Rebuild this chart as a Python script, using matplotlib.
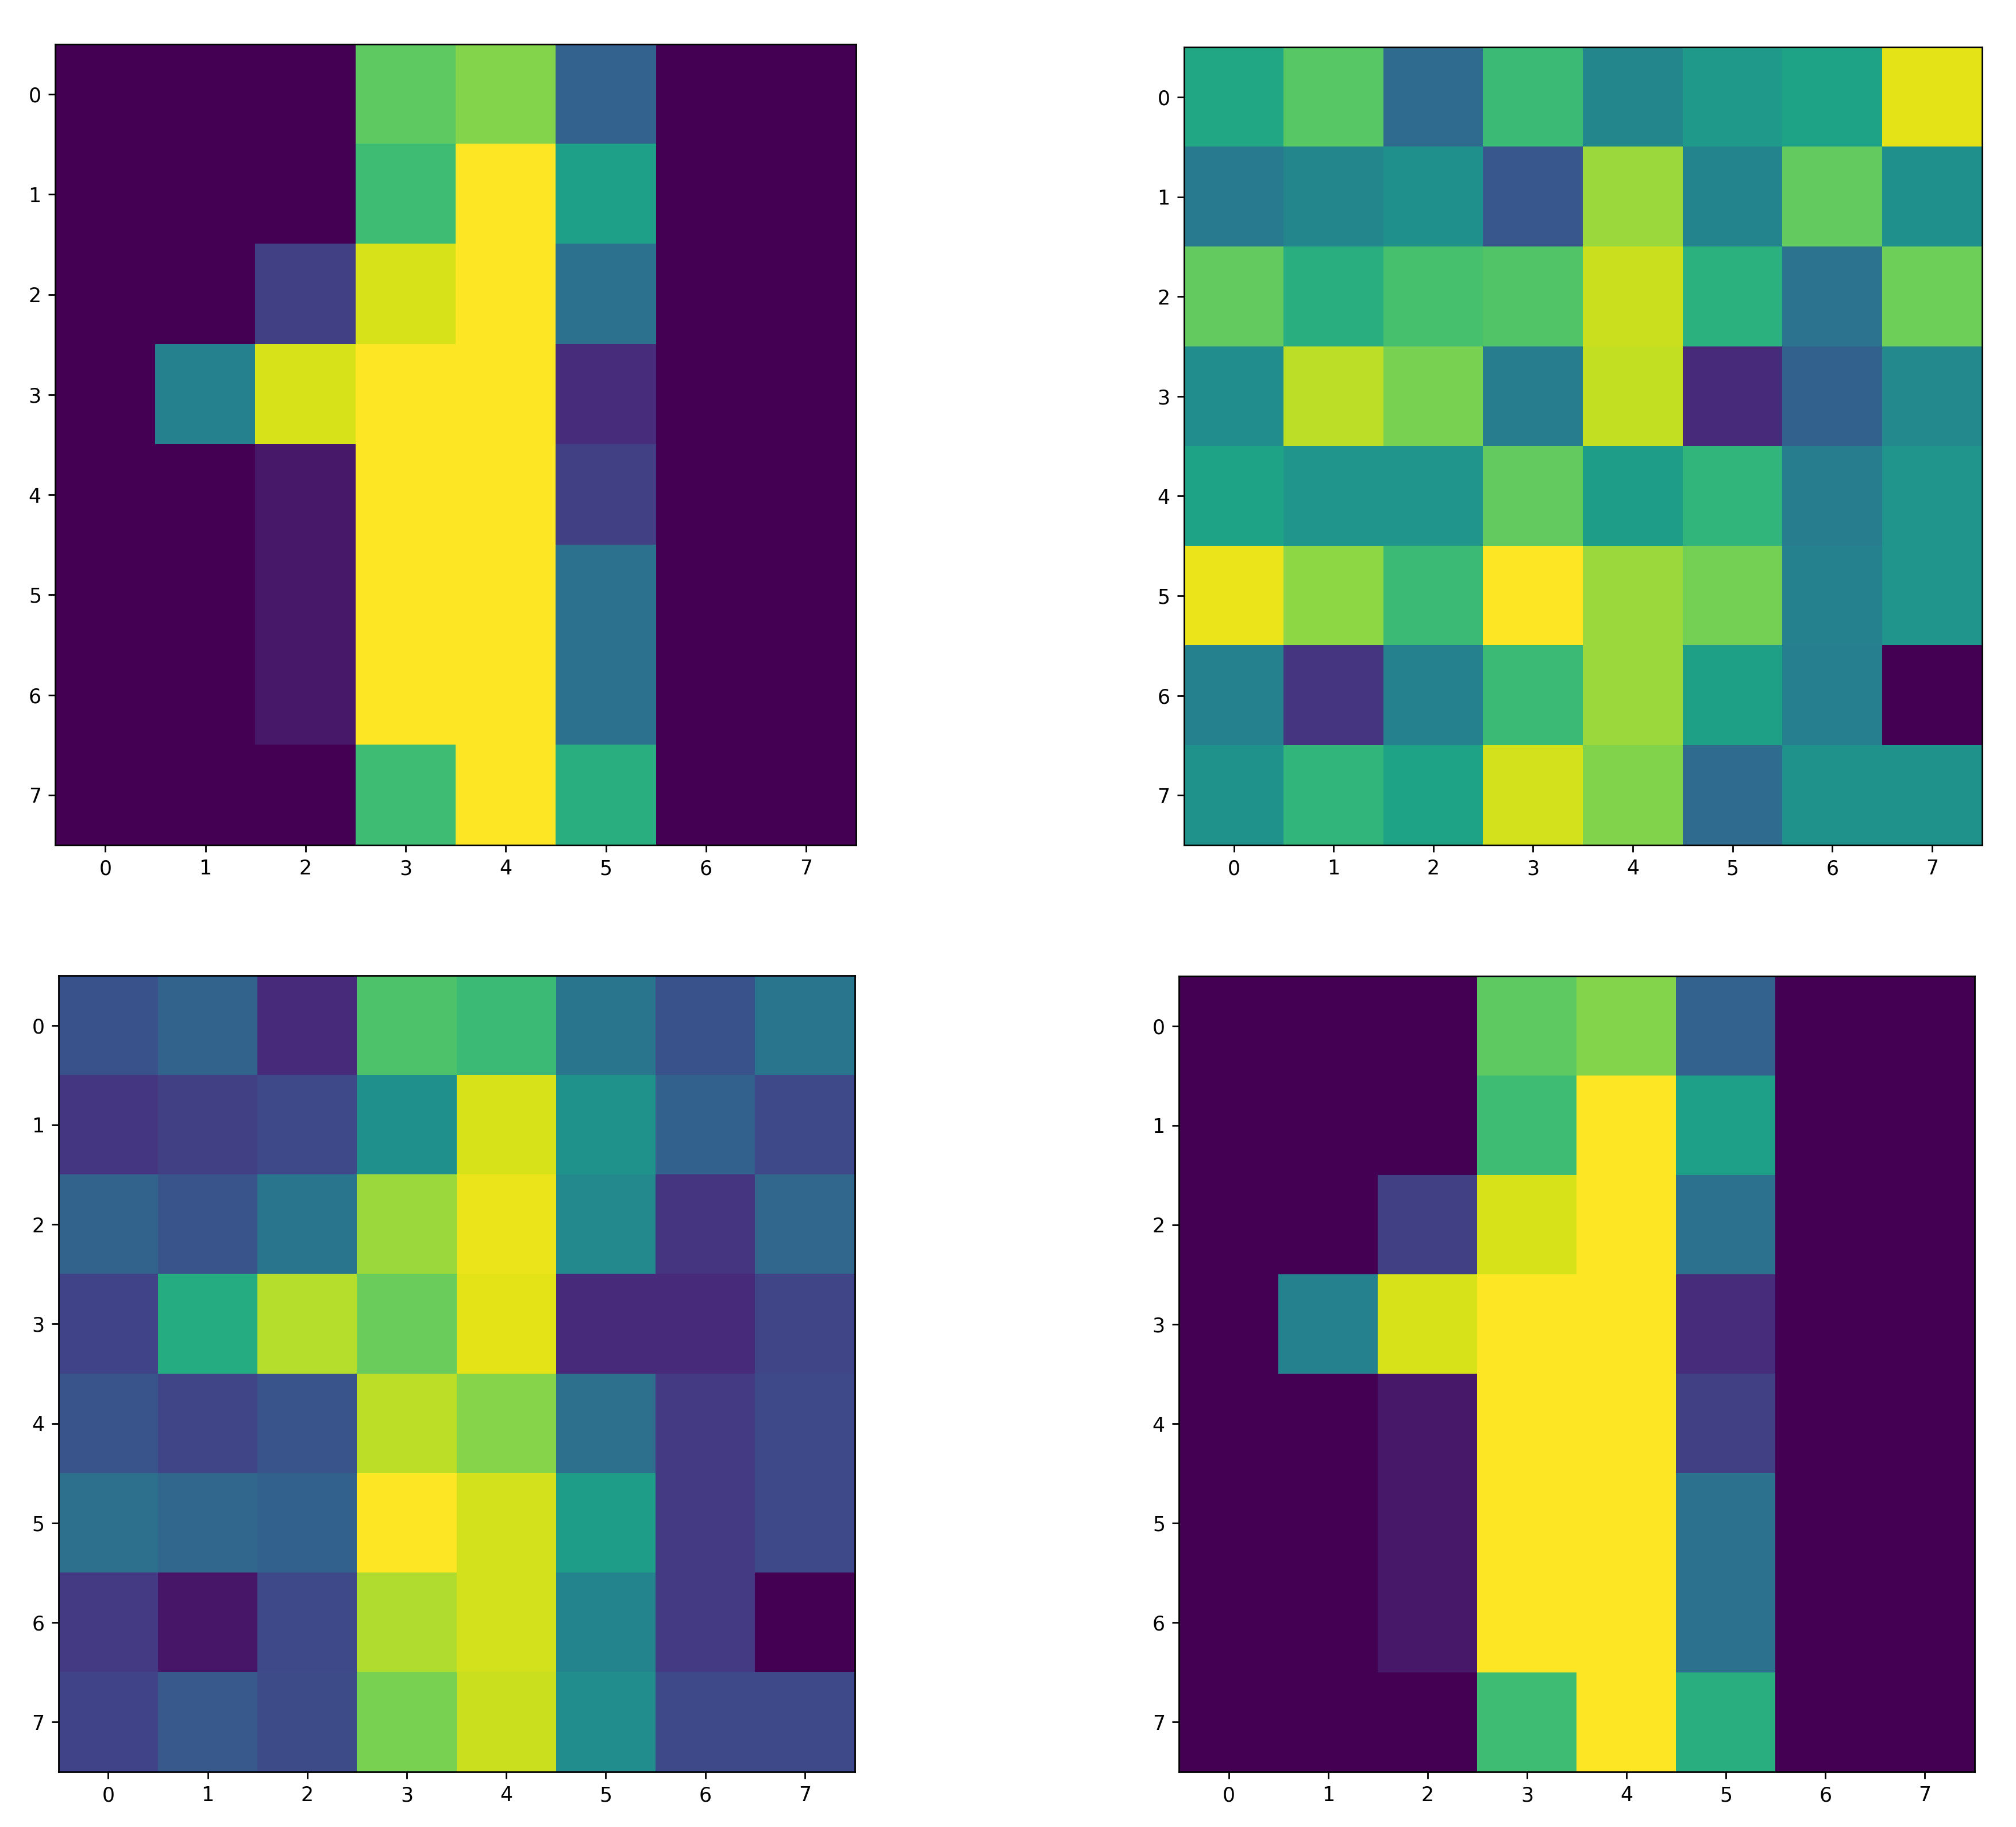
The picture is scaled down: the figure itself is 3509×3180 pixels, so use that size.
import numpy as np
import matplotlib
matplotlib.use("Agg")
import matplotlib.pyplot as plt

# original 8x8 digit image (pixel intensities 0..16)
digit = [
    [0, 0, 0, 12, 13, 5, 0, 0],
    [0, 0, 0, 11, 16, 9, 0, 0],
    [0, 0, 3, 15, 16, 6, 0, 0],
    [0, 7, 15, 16, 16, 2, 0, 0],
    [0, 0, 1, 16, 16, 3, 0, 0],
    [0, 0, 1, 16, 16, 6, 0, 0],
    [0, 0, 1, 16, 16, 6, 0, 0],
    [0, 0, 0, 11, 16, 10, 0, 0],
]

noise = [
    [0.60, 0.74, 0.35, 0.68, 0.46, 0.54, 0.58, 0.96],
    [0.41, 0.46, 0.50, 0.27, 0.85, 0.45, 0.76, 0.50],
    [0.76, 0.63, 0.71, 0.73, 0.92, 0.64, 0.38, 0.78],
    [0.49, 0.90, 0.80, 0.42, 0.91, 0.12, 0.31, 0.47],
    [0.58, 0.52, 0.52, 0.76, 0.56, 0.66, 0.42, 0.52],
    [0.97, 0.83, 0.68, 1.00, 0.85, 0.79, 0.44, 0.52],
    [0.44, 0.15, 0.44, 0.68, 0.85, 0.57, 0.43, 0.00],
    [0.51, 0.66, 0.58, 0.93, 0.81, 0.35, 0.51, 0.51],
]

# noisy digit (normalised values)
noisy_digit = [
    [0.25, 0.32, 0.12, 0.72, 0.68, 0.39, 0.25, 0.39],
    [0.16, 0.19, 0.22, 0.50, 0.94, 0.51, 0.31, 0.22],
    [0.32, 0.26, 0.39, 0.85, 0.97, 0.47, 0.15, 0.33],
    [0.20, 0.62, 0.89, 0.77, 0.96, 0.12, 0.12, 0.21],
    [0.26, 0.21, 0.26, 0.90, 0.82, 0.37, 0.17, 0.22],
    [0.37, 0.33, 0.31, 1.00, 0.93, 0.56, 0.17, 0.22],
    [0.17, 0.06, 0.22, 0.88, 0.93, 0.45, 0.17, 0.00],
    [0.20, 0.28, 0.23, 0.80, 0.92, 0.49, 0.22, 0.22],
]

# reconstructed digit, same as the original
denoised = digit

panels = [digit, noise, noisy_digit, denoised]

fig = plt.figure(figsize=(3509 / 250, 3180 / 250), dpi=250)

# axes boxes [left, bottom, width, height] in figure fractions
boxes = [
    [0.0274, 0.5374, 0.3973, 0.4384],
    [0.5873, 0.5374, 0.3958, 0.4368],
    [0.0288, 0.0302, 0.3953, 0.4358],
    [0.5848, 0.0302, 0.3947, 0.4355],
]

for img, box in zip(panels, boxes):
    ax = fig.add_axes(box)
    ax.imshow(np.array(img, dtype=float), cmap="viridis")
    ax.set_xticks(range(8))
    ax.set_yticks(range(8))

fig.savefig("out.png", dpi=250)
